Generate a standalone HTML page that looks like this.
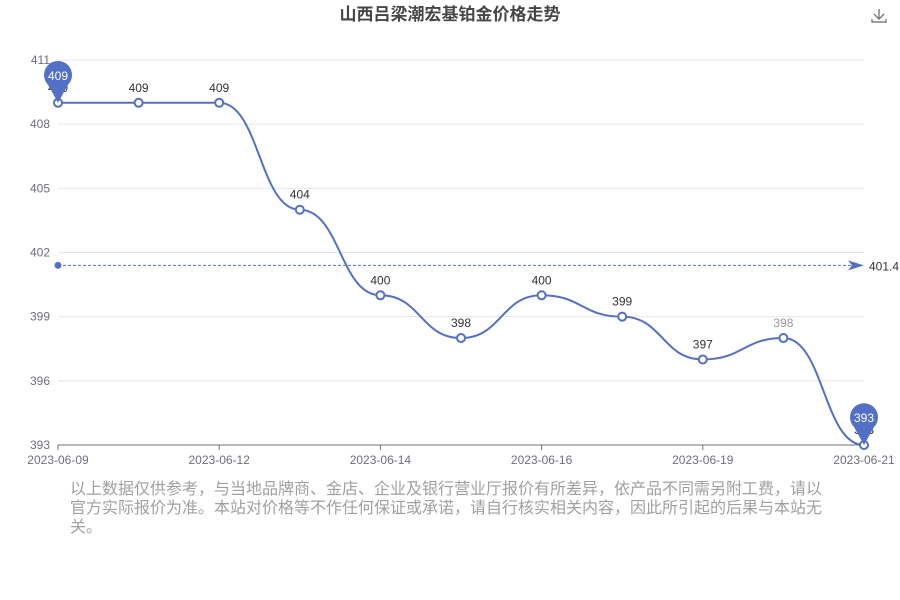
<!DOCTYPE html>
<html><head><meta charset="utf-8">
<style>
body{margin:0;background:#fff;width:900px;height:600px;overflow:hidden;font-family:"Liberation Sans","Noto Sans CJK SC",sans-serif;}
#note{position:absolute;left:70px;top:480px;width:760px;font-size:16px;line-height:19px;color:#a0a0a0;}
</style></head><body>
<svg id="chart" width="900" height="600" style="position:absolute;left:0;top:0" font-family="Liberation Sans, Noto Sans CJK SC, sans-serif"></svg>
<div id="note">以上数据仅供参考，与当地品牌商、金店、企业及银行营业厅报价有所差异，依产品不同需另附工费，请以官方实际报价为准。本站对价格等不作任何保证或承诺，请自行核实相关内容，因此所引起的后果与本站无关。</div>
<script>
const categories=["2023-06-09","2023-06-10","2023-06-12","2023-06-13","2023-06-14","2023-06-15","2023-06-16","2023-06-17","2023-06-19","2023-06-20","2023-06-21"];
const values=[409,409,409,404,400,398,400,399,397,398,393];
const yTicks=[393,396,399,402,405,408,411];
const avgValue=401.4;
const ns="http://www.w3.org/2000/svg";
const svg=document.getElementById('chart');
const x0=58,x1=864,yTop=60,yBot=445,yMin=393,yMax=411;
const xs=i=>x0+(x1-x0)*i/(categories.length-1);
const ys=v=>yBot-(v-yMin)/(yMax-yMin)*(yBot-yTop);
function mk(t,a,txt){const e=document.createElementNS(ns,t);for(const k in a)e.setAttribute(k,a[k]);if(txt!==undefined)e.textContent=txt;svg.appendChild(e);return e;}
let e=mk('text',{x:450,y:20,'text-anchor':'middle','font-size':17,'font-weight':'bold',fill:'#464646'},'山西吕梁潮宏基铂金价格走势');

e=mk('path',{d:'M879 9v10M874 14l5 5 5-5M878 21h0M872 19v3h14v-3',stroke:'#666',fill:'none','stroke-width':1.2});

yTicks.forEach(v=>{
 const g=mk('line',{x1:x0,x2:x1,y1:ys(v),y2:ys(v),stroke:'#e0e6f1'});
 
 const t=mk('text',{x:50,y:ys(v)+4,'text-anchor':'end','font-size':12,fill:'#6e7079'},v);
 
});
e=mk('line',{x1:x0,x2:x1,y1:yBot,y2:yBot,stroke:'#6e7079'});

categories.forEach((c,i)=>{
 if(i%2&&i!==categories.length-1)return;
 if(i===categories.length-1||i%2===0){
 const tk=mk('line',{x1:xs(i),x2:xs(i),y1:yBot,y2:yBot+5,stroke:'#6e7079'});
 
 const t=mk('text',{x:xs(i),y:yBot+19,'text-anchor':'middle','font-size':12,fill:'#6e7079'},c);
 }
});
// avg line
const ay=ys(avgValue);
e=mk('line',{x1:x0,x2:x1-8,y1:ay,y2:ay,stroke:'#5470c6','stroke-dasharray':'3,2'});

e=mk('circle',{cx:x0,cy:ay,r:3.5,fill:'#5470c6'});

e=mk('path',{d:`M${x1} ${ay} L${x1-16} ${ay-5} L${x1-12} ${ay} L${x1-16} ${ay+5}Z`,fill:'#5470c6'});

e=mk('text',{x:x1+5,y:ay+5,'font-size':12,fill:'#333'},avgValue);

// line
let d=`M${xs(0)} ${ys(values[0])}`;
for(let i=1;i<values.length;i++){const xa=xs(i-1),xb=xs(i),dx=xb-xa;d+=` C${xa+dx*0.5} ${ys(values[i-1])} ${xb-dx*0.5} ${ys(values[i])} ${xb} ${ys(values[i])}`;}
e=mk('path',{d,fill:'none',stroke:'#5470c6','stroke-width':2});

values.forEach((v,i)=>{
 const p=mk('circle',{cx:xs(i),cy:ys(v),r:4,fill:'#fff',stroke:'#5470c6','stroke-width':2});
 
 const t=mk('text',{x:xs(i),y:ys(v)-11,'text-anchor':'middle','font-size':12,fill:i===9?'#999':'#333'},v);
 
});
function pin(i,name){const cx=xs(i),cy=ys(values[i])-28;
 const g=mk('path',{d:`M${cx} ${cy+28} L${cx-10} ${cy+10} A14 14 0 1 1 ${cx+10} ${cy+10} Z`,fill:'#5470c6'});
 
 const t=mk('text',{x:cx,y:cy+5,'text-anchor':'middle','font-size':12,fill:'#fff'},values[i]);
 }
pin(0,'max-marker');pin(values.length-1,'min-marker');
</script>
</body></html>
